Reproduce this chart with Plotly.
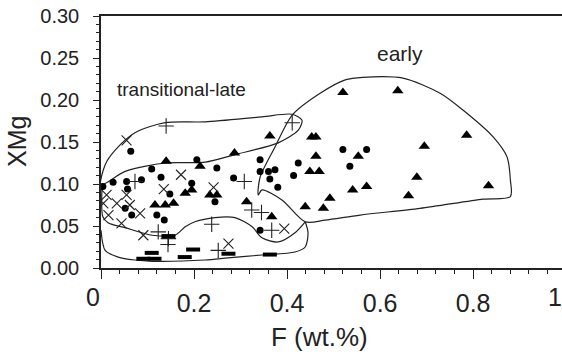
import plotly.graph_objects as go

# ---- data (F wt.%, XMg) ----
tri_F = [0.140, 0.213, 0.195, 0.181, 0.116, 0.138, 0.156, 0.363, 0.287, 0.234, 0.249, 0.313,
         0.453, 0.462, 0.462, 0.449, 0.469, 0.367, 0.439, 0.478, 0.520, 0.638, 0.695, 0.553,
         0.679, 0.541, 0.571, 0.661, 0.492, 0.786, 0.833]
tri_X = [0.127, 0.121, 0.093, 0.089, 0.075, 0.075, 0.077, 0.157, 0.137, 0.087, 0.087, 0.079,
         0.156, 0.156, 0.133, 0.115, 0.115, 0.061, 0.073, 0.071, 0.209, 0.211, 0.145, 0.133,
         0.108, 0.093, 0.097, 0.086, 0.083, 0.158, 0.098]

dot_F = [0.064, 0.004, 0.026, 0.055, 0.057, 0.087, 0.109, 0.129, 0.148, 0.206, 0.195, 0.052,
         0.066, 0.120, 0.136, 0.249, 0.342, 0.342, 0.360, 0.374, 0.363, 0.380, 0.285, 0.414,
         0.424, 0.245, 0.342, 0.520, 0.571, 0.535]
dot_X = [0.139, 0.097, 0.102, 0.103, 0.094, 0.105, 0.118, 0.108, 0.088, 0.129, 0.101, 0.071,
         0.063, 0.063, 0.057, 0.119, 0.129, 0.115, 0.115, 0.117, 0.106, 0.096, 0.107, 0.110,
         0.125, 0.079, 0.045, 0.141, 0.141, 0.121]

x_F = [0.055, 0.172, 0.135, 0.012, 0.055, 0.005, 0.034, 0.016, 0.044, 0.062, 0.084, 0.091,
       0.242, 0.394, 0.274]
x_X = [0.152, 0.111, 0.094, 0.087, 0.087, 0.077, 0.077, 0.063, 0.053, 0.075, 0.065, 0.039,
       0.096, 0.047, 0.029]

plus_F = [0.140, 0.073, 0.411, 0.308, 0.123, 0.145, 0.144, 0.324, 0.345, 0.367, 0.238, 0.252]
plus_X = [0.169, 0.103, 0.173, 0.103, 0.043, 0.035, 0.028, 0.069, 0.066, 0.045, 0.052, 0.021]

dash_F = [0.145, 0.109, 0.091, 0.115, 0.180, 0.198, 0.274, 0.363]
dash_X = [0.038, 0.018, 0.011, 0.011, 0.013, 0.022, 0.017, 0.016]

# field outlines
early_F = [0.338, 0.342, 0.374, 0.411, 0.471, 0.525, 0.563, 0.649, 0.729, 0.778, 0.843, 0.873,
           0.880, 0.880, 0.822, 0.686, 0.557, 0.482, 0.439, 0.389, 0.346, 0.338]
early_X = [0.087, 0.108, 0.144, 0.182, 0.208, 0.224, 0.227, 0.226, 0.208, 0.188, 0.156, 0.132,
           0.105, 0.085, 0.082, 0.071, 0.063, 0.057, 0.055, 0.081, 0.093, 0.087]

lobe_F = [0.0, 0.009, 0.030, 0.073, 0.138, 0.224, 0.346, 0.411, 0.432, 0.424, 0.381, 0.288,
          0.224, 0.138, 0.052, 0.0]
lobe_X = [0.099, 0.123, 0.140, 0.161, 0.173, 0.174, 0.180, 0.183, 0.176, 0.164, 0.149, 0.135,
          0.126, 0.125, 0.115, 0.099]

inner_F = [0.002, 0.004, 0.015, 0.052, 0.110, 0.159, 0.181, 0.202, 0.245, 0.288, 0.325, 0.346,
           0.381, 0.417, 0.439]
inner_X = [0.093, 0.061, 0.054, 0.048, 0.039, 0.039, 0.049, 0.055, 0.060, 0.060, 0.049, 0.036,
           0.031, 0.042, 0.055]

outer_F = [0.0, 0.009, 0.037, 0.073, 0.110, 0.224, 0.273, 0.346, 0.417, 0.439, 0.445, 0.439]
outer_X = [0.045, 0.021, 0.013, 0.0095, 0.008, 0.0095, 0.012, 0.0155, 0.019, 0.025, 0.042, 0.055]

x_ticks = [0, 0.2, 0.4, 0.6, 0.8]
x_ticktext = ["", "0.2", "0.4", "0.6", "0.8"]
y_ticks = [0, 0.05, 0.10, 0.15, 0.20, 0.25, 0.30]

FONT = "Liberation Sans, Arial, sans-serif"
INK = "#222"

fig = go.Figure()
for fx, fy in [(early_F, early_X), (lobe_F, lobe_X), (inner_F, inner_X), (outer_F, outer_X)]:
    fig.add_trace(go.Scatter(x=fx, y=fy, mode="lines",
                             line=dict(color=INK, width=1.2, shape="spline", smoothing=0.8),
                             hoverinfo="skip"))

fig.add_trace(go.Scatter(x=tri_F, y=tri_X, mode="markers",
                         marker=dict(symbol="triangle-up", size=10, color="black")))
fig.add_trace(go.Scatter(x=dot_F, y=dot_X, mode="markers",
                         marker=dict(symbol="circle", size=7, color="black")))
fig.add_trace(go.Scatter(x=x_F, y=x_X, mode="markers",
                         marker=dict(symbol="x-thin", size=10, color="black",
                                     line=dict(color=INK, width=1.1))))
fig.add_trace(go.Scatter(x=plus_F, y=plus_X, mode="markers",
                         marker=dict(symbol="cross-thin", size=11, color="black",
                                     line=dict(color=INK, width=1.1))))
fig.add_trace(go.Scatter(x=dash_F, y=dash_X, mode="markers",
                         marker=dict(symbol="line-ew", size=10, color="black",
                                     line=dict(color="black", width=4))))

tick_font = dict(size=25, family=FONT, color=INK)
fig.update_layout(
    width=562, height=356,
    margin=dict(l=101, r=0, t=16, b=88),
    paper_bgcolor="white", plot_bgcolor="white",
    showlegend=False,
    font=dict(family=FONT, color=INK),
    xaxis=dict(range=[0, 0.991], tickvals=x_ticks, ticktext=x_ticktext,
               showgrid=False, zeroline=False, showline=True, linecolor=INK, linewidth=1.5,
               mirror=True, ticks="outside", ticklen=9, tickwidth=1.2, tickcolor=INK,
               ticklabelstandoff=3, tickfont=tick_font,
               minor=dict(dtick=0.04, ticks="outside", ticklen=4, tickcolor=INK, tickwidth=1)),
    yaxis=dict(range=[0, 0.30], tickvals=y_ticks, tickformat=".2f",
               showgrid=False, zeroline=False, showline=True, linecolor=INK, linewidth=1.5,
               ticks="outside", ticklen=6, tickwidth=1.2, tickcolor=INK,
               ticklabelstandoff=10, tickfont=dict(size=20, family=FONT, color=INK),
               minor=dict(dtick=0.01, ticks="outside", ticklen=3, tickcolor=INK, tickwidth=1)),
    annotations=[
        dict(text="0", x=0, xshift=-8, y=-0.052, xref="paper", yref="paper", showarrow=False,
             xanchor="center", yanchor="top", font=tick_font),
        dict(text="1", x=0.975, y=-0.052, xref="x", yref="paper", showarrow=False,
             xanchor="center", yanchor="top", font=tick_font),
        dict(text="F (wt.%)", x=0.47, y=-0.205, xref="x", yref="paper", showarrow=False,
             xanchor="center", yanchor="top", font=dict(size=26, family=FONT, color=INK)),
        dict(text="XMg", x=0, xshift=-84, y=0.5, xref="paper", yref="paper", showarrow=False,
             xanchor="center", yanchor="middle", textangle=-90,
             font=dict(size=25, family=FONT, color=INK)),
        dict(text="early", x=0.643, y=0.255, xref="x", yref="y", showarrow=False,
             xanchor="center", font=dict(size=21, family=FONT, color=INK)),
        dict(text="transitional-late", x=0.174, y=0.212, xref="x", yref="y", showarrow=False,
             xanchor="center", font=dict(size=19, family=FONT, color=INK)),
    ],
)

fig.write_html("out.html", config={"displayModeBar": False},
               post_script="document.body.style.margin='0';document.body.style.overflow='hidden';")
